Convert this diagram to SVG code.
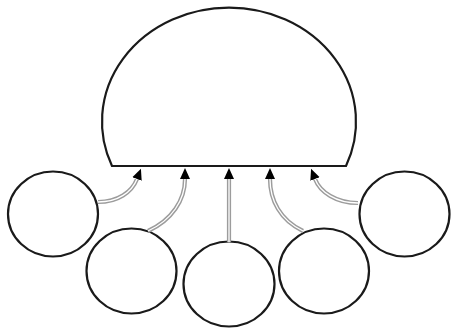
<svg xmlns="http://www.w3.org/2000/svg" width="456" height="333" viewBox="0 0 456 333">
  <style>
    .node { fill: #ffffff; stroke: #1a1a1a; stroke-width: 2.2; }
    .edge-outer { fill: none; stroke: #9c9c9c; stroke-width: 4.2; }
    .edge-inner { fill: none; stroke: #ffffff; stroke-width: 1.3; }
  </style>
  <defs>
    <marker id="arrow" markerUnits="userSpaceOnUse" markerWidth="13" markerHeight="13" viewBox="0 -6.5 13 13" refX="0" refY="0" orient="auto">
      <path d="M0,-5 L11,0 L0,5 Z" fill="#000000"/>
    </marker>
  </defs>
  <rect width="456" height="333" fill="#ffffff"/>
  <g id="dome">
    <path class="node" d="M112,166 A127,114 0 1 1 346,166 Z"/>
  </g>
  <g id="node1"><ellipse class="node" cx="53" cy="214" rx="45" ry="42.5"/></g>
  <g id="node2"><ellipse class="node" cx="131.5" cy="271" rx="45" ry="42.5"/></g>
  <g id="node3"><ellipse class="node" cx="229" cy="284" rx="45.5" ry="42.5"/></g>
  <g id="node4"><ellipse class="node" cx="324" cy="271" rx="45" ry="42.5"/></g>
  <g id="node5"><ellipse class="node" cx="404.5" cy="214" rx="45" ry="42.5"/></g>
  <g id="connectors">
    <path class="edge-outer" marker-end="url(#arrow)" d="M98,202 C118,202 132,192 137,179"/>
    <path class="edge-inner" d="M98,202 C118,202 132,192 137,179"/>
    <path class="edge-outer" marker-end="url(#arrow)" d="M148,231 C172,220 185,200 185,179"/>
    <path class="edge-inner" d="M148,231 C172,220 185,200 185,179"/>
    <path class="edge-outer" marker-end="url(#arrow)" d="M229,242 L229,179"/>
    <path class="edge-inner" d="M229,242 L229,179"/>
    <path class="edge-outer" marker-end="url(#arrow)" d="M303,231 C280,220 270,200 270,179"/>
    <path class="edge-inner" d="M303,231 C280,220 270,200 270,179"/>
    <path class="edge-outer" marker-end="url(#arrow)" d="M358,203 C336,203 320,192 315,179"/>
    <path class="edge-inner" d="M358,203 C336,203 320,192 315,179"/>
  </g>
</svg>
